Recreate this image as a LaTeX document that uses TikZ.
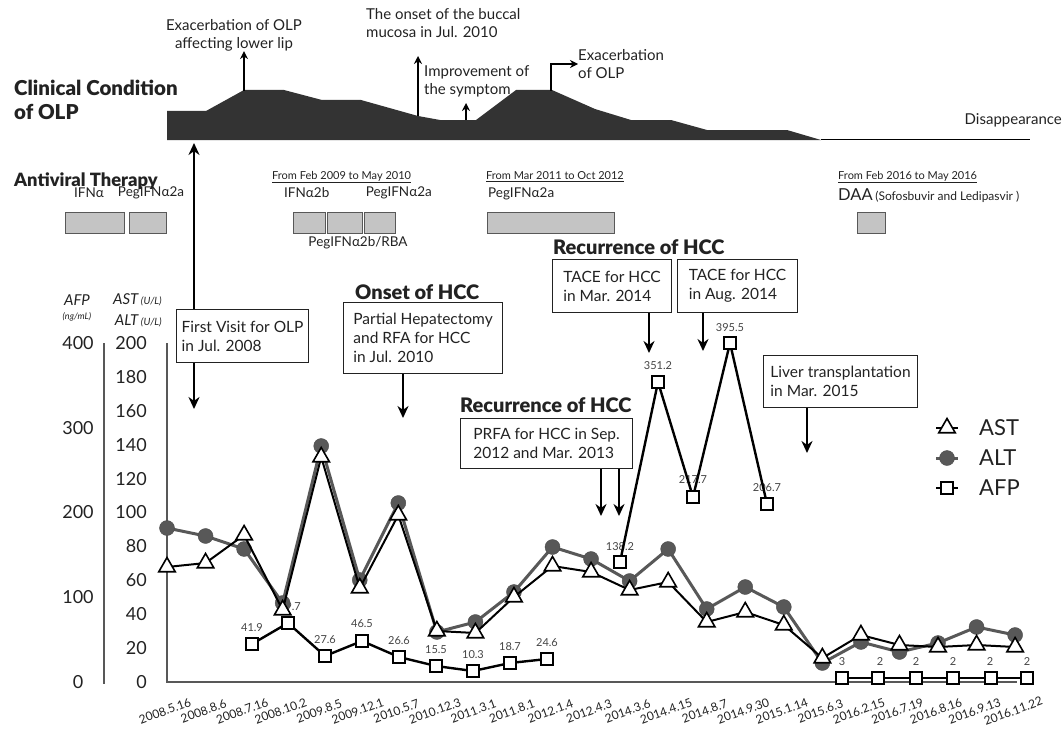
\documentclass[tikz,border=0pt]{standalone}
\usepackage{fontspec}
\setmainfont{Lato}[BoldFont={Lato Black}]
\usetikzlibrary{arrows.meta,shapes.geometric}
\definecolor{dk}{HTML}{222222}
\definecolor{sil}{HTML}{333333}
\definecolor{altc}{HTML}{585858}
\definecolor{boxg}{HTML}{C4C4C4}
\definecolor{lbl}{HTML}{444444}
\newcommand{\fsz}[2]{\fontsize{#1}{#2}\selectfont}
\tikzset{
 txt/.style={font=\fsz{15}{18}, text=dk, inner sep=0pt, align=left},
 ttl/.style={font=\bfseries, text=dk, inner sep=0pt, align=left},
 hcc/.style={font=\bfseries\fsz{20}{22}, text=dk, inner sep=0pt, anchor=west},
 annbox/.style={draw=dk, line width=1.1pt, fill=white, align=left, font=\fsz{15.5}{19}, text=dk, inner xsep=5pt, inner ysep=0pt, anchor=north west},
 arr/.style={draw=black, line width=2.2pt, -{Stealth[length=12pt,width=11pt]}},
 sarr/.style={draw=black, line width=1.8pt, -{Stealth[length=8pt,width=8pt]}},
 avbox/.style={draw=altc, fill=boxg, line width=1.1pt, inner sep=0pt, anchor=north west},
 avtxt/.style={font=\fsz{13.5}{15}, text=dk, inner sep=0pt},
 period/.style={font=\fsz{11}{13}, text=dk, inner sep=0pt, anchor=west},
 ticklab/.style={font=\fsz{18}{20}, text=dk, inner sep=0pt},
 dlab/.style={font=\fsz{11}{13}, text=lbl, inner sep=0pt},
 xlab/.style={font=\fsz{12}{14}, text=dk, inner sep=0pt, rotate=20},
 altm/.style={circle, fill=altc, draw=altc!85!black, minimum size=15pt, inner sep=0pt},
 astm/.style={regular polygon, regular polygon sides=3, draw=black, fill=white, line width=1.6pt, minimum size=19pt, inner sep=0pt},
 afpm/.style={rectangle, draw=black, fill=white, line width=2pt, minimum size=12pt, inner sep=0pt},
 axisl/.style={draw=altc, line width=1.4pt},
 altline/.style={draw=altc, line width=3pt, line join=round},
 astline/.style={draw=black, line width=2pt, line join=round},
 afpline/.style={draw=black, line width=2.4pt, line join=round},
}
\begin{document}
\begin{tikzpicture}[x=1pt,y=-1pt]
\useasboundingbox (0,0) rectangle (1064,733);

% ---------- Clinical condition of OLP ----------
\node[ttl, font=\bfseries\fsz{20.5}{24}, anchor=west] (cc) at (14,100) {Clinical Condition\\of OLP};
\fill[sil] (167,140) -- (167,111) -- (206,111) -- (244,90) -- (284,90) -- (322,100) -- (361,100)
  -- (418,116) -- (440,120) -- (476,120) -- (516,90) -- (552,90) -- (595,109) -- (631,120)
  -- (671,120) -- (707,130) -- (787,130) -- (821,140) -- cycle;
\draw[line width=1.3pt, black] (821,139.5) -- (1030,139.5);
\node[txt, anchor=east] (dis) at (1062,120) {Disappearance};

\node[txt, align=center] (lowerlip) at (234,35) {Exacerbation of OLP\\affecting lower lip};
\coordinate (llA) at (244,91);
\draw[sarr] (llA) -- (lowerlip.south -| llA);

\node[txt, anchor=west] (buccal) at (366,23) {The onset of the buccal\\mucosa in Jul. 2010};
\coordinate (bcA) at (418,116);
\coordinate (bcB) at (418,56);
\draw[sarr] (bcA) -- (bcB);

\node[txt, anchor=west] (improve) at (424,81) {Improvement of\\the symptom};
\coordinate (imA) at (466,120);
\coordinate (imB) at (466,103);
\draw[sarr] (imA) -- (imB);

\node[txt, anchor=west] (exac) at (578,64) {Exacerbation\\of OLP};
\coordinate (exA) at (551,91);
\draw[sarr] (exA) |- (exac.west);

% ---------- Antiviral therapy ----------
\node[ttl, font=\bfseries\fsz{18.3}{22}, anchor=west] (avt) at (14,181) {Antiviral Therapy};

\node[avtxt] (l1) at (89,193) {IFNα};
\node[avtxt] (l2) at (151,193) {PegIFNα2a};
\node[avbox, minimum width=59pt, minimum height=21pt] (b1) at (65,212) {};
\node[avbox, minimum width=37pt, minimum height=21pt] (b2) at (129,212) {};

\node[period] (p1) at (272,177) {\underline{From Feb 2009 to May 2010}};
\node[avtxt, anchor=west] (l3) at (284,193) {IFNα2b};
\node[avtxt, anchor=east] (l4) at (432,193) {PegIFNα2a};
\node[avbox, minimum width=32pt, minimum height=21pt] (b3) at (293,212) {};
\node[avbox, minimum width=35pt, minimum height=21pt] (b4) at (327,212) {};
\node[avbox, minimum width=31pt, minimum height=21pt] (b5) at (364,212) {};
\node[avtxt] (l5) at (358,243) {PegIFNα2b/RBA};

\node[period] (p2) at (486,177) {\underline{From Mar 2011 to Oct 2012}};
\node[avtxt, anchor=west] (l6) at (488,194) {PegIFNα2a};
\node[avbox, minimum width=127pt, minimum height=21pt] (b6) at (487,212) {};

\node[period] (p3) at (838,177) {\underline{From Feb 2016 to May 2016}};
\node[inner sep=0pt, anchor=west, text=dk] (l7) at (838,196) {{\fsz{16.5}{18}DAA} {\fsz{12}{14}(Sofosbuvir and Ledipasvir )}};
\node[avbox, minimum width=28pt, minimum height=21pt] (b7) at (857,212) {};

% ---------- axes ----------
\node[font=\itshape\fsz{15}{17}, text=dk, inner sep=0pt] (afph) at (77,300) {AFP};
\node[font=\itshape\fsz{9}{11}, text=dk, inner sep=0pt] (afpu) at (77,317) {(ng/mL)};
\node[inner sep=0pt, anchor=east, text=dk] (asth) at (162,300) {{\itshape\fsz{15}{17}AST} {\itshape\fsz{10}{12}(U/L)}};
\node[inner sep=0pt, anchor=east, text=dk] (alth) at (162,321) {{\itshape\fsz{15}{17}ALT} {\itshape\fsz{10}{12}(U/L)}};

\draw[axisl] (104,343) -- (104,684);
\draw[axisl] (167,343) -- (167,682) -- (1017,682);

\foreach \v [count=\k from 0] in {0,20,...,200}
  \node[ticklab, anchor=east] (ta\k) at (147,{682-1.695*\v}) {\v};
\foreach \v [count=\k from 0] in {0,100,...,400}
  \node[ticklab] (tf\k) at (78,{682-0.8475*\v}) {\v};

\foreach \l [count=\i from 0] in {2008.5.16,2008.8.6,2008.7.16,2008.10.2,2009.8.5,2009.12.1,2010.5.7,2010.12.3,2011.3.1,2011.8.1,2012.1.4,2012.4.3,2014.3.6,2014.4.15,2014.8.7,2014.9.30,2015.1.14,2015.6.3,2016.2.15,2016.7.19,2016.8.16,2016.9.13,2016.11.22}
  \node[xlab] (xl\i) at ({165+38.55*\i},711) {\l};

% ---------- annotation boxes ----------
\node[annbox, minimum width=132pt, minimum height=53pt] (fv) at (176,309) {First Visit for OLP\\in Jul. 2008};
\coordinate (fvUp) at (194,143);
\coordinate (fvDn) at (194,409);
\draw[arr] (fv.north -| fvUp) -- (fvUp);
\draw[arr] (fv.south -| fvDn) -- (fvDn);

\node[hcc] (onT) at (355,292) {Onset of HCC};
\node[annbox, minimum width=159pt, minimum height=71pt] (onset) at (343,302) {Partial Hepatectomy\\and RFA for HCC\\in Jul. 2010};
\coordinate (onDn) at (403,418);
\draw[arr] (onset.south -| onDn) -- (onDn);

\node[hcc] (rc1) at (553,247) {Recurrence of HCC};
\node[annbox, minimum width=119pt, minimum height=53pt] (tace1) at (552,259) {TACE for HCC\\in Mar. 2014};
\node[annbox, minimum width=120pt, minimum height=53pt] (tace2) at (677,259) {TACE for HCC\\in Aug. 2014};
\coordinate (t1Dn) at (649,353);
\coordinate (t2Dn) at (703,351);
\draw[arr] (tace1.south -| t1Dn) -- (t1Dn);
\draw[arr] (tace2.south -| t2Dn) -- (t2Dn);

\node[hcc] (rc2) at (460,405) {Recurrence of HCC};
\node[annbox, minimum width=172pt, minimum height=50pt] (prfa) at (460,418) {PRFA for HCC in Sep.\\2012 and Mar. 2013};
\coordinate (prA) at (601,516);
\coordinate (prB) at (619,516);
\draw[arr] (prfa.south -| prA) -- (prA);
\draw[arr] (prfa.south -| prB) -- (prB);

\node[annbox, minimum width=154pt, minimum height=52pt] (liver) at (763,355) {Liver transplantation\\in Mar. 2015};
\coordinate (lvDn) at (807,453);
\draw[arr] (liver.south -| lvDn) -- (lvDn);

% ---------- data ----------
\foreach \y [count=\i from 0] in {528,536,549,603,446,580,503,632,622,592,547,559,581,549,609,587,607,663,642,652,643,627,635}
  \coordinate (alt\i) at ({167+38.55*\i},\y);
\foreach \y [count=\i from 0] in {567,563,535,610,457,588,515,631,633,597,566,572,590,582,622,612,625,658,635,645,647,645,647}
  \coordinate (ast\i) at ({167+38.55*\i},\y);
\foreach \x/\y [count=\i] in {252/644,288/623,325/656,362/641,399/657,436/666,473/671,510/663,547/659,620/562,658/382,693/497,730/343,767/504,842/678,878/678,916/678,953/678,991/678,1027/678}
  \coordinate (afp\i) at (\x,\y);

% AFP value labels
\foreach \x/\y/\l [count=\i] in {252/628/41.9,290/607/69.7,325/640/27.6,362/624/46.5,399/641/26.6,436/650/15.5,473/655/10.3,510/647/18.7,547/643/24.6,620/547/138.2,658/366/351.2,693/480/217.7,730/328/395.5,767/488/206.7,842/662/3,880/662/2,916/662/2,953/662/2,990/662/2,1027/662/2}
  \node[dlab] (dl\i) at (\x,\y) {\l};

\draw[altline] (alt0) \foreach \i in {1,...,22} { -- (alt\i) };
\foreach \i in {0,...,22} \node[altm] (altm\i) at (alt\i) {};
\draw[astline] (ast0) \foreach \i in {1,...,22} { -- (ast\i) };
\foreach \i in {0,...,22} \node[astm] (astm\i) at (ast\i) {};

\draw[afpline] (afp1) \foreach \i in {2,...,9} { -- (afp\i) };
\draw[afpline] (afp10) \foreach \i in {11,...,14} { -- (afp\i) };
\draw[afpline] (afp15) \foreach \i in {16,...,20} { -- (afp\i) };
\foreach \i in {1,...,20} \node[afpm] (afpm\i) at (afp\i) {};

% ---------- legend ----------
\coordinate (lgA) at (947,428);
\coordinate (lgB) at (947,458);
\coordinate (lgC) at (947,488);
\draw[astline] ([xshift=-11pt]lgA) -- ([xshift=11pt]lgA);
\node[astm] (lgAm) at (lgA) {};
\draw[altline] ([xshift=-11pt]lgB) -- ([xshift=11pt]lgB);
\node[altm] (lgBm) at (lgB) {};
\draw[afpline] ([xshift=-11pt]lgC) -- ([xshift=11pt]lgC);
\node[afpm] (lgCm) at (lgC) {};
\node[font=\fsz{22}{24}, text=dk, inner sep=0pt, anchor=west] (lgAt) at (979,428) {AST};
\node[font=\fsz{22}{24}, text=dk, inner sep=0pt, anchor=west] (lgBt) at (979,458) {ALT};
\node[font=\fsz{22}{24}, text=dk, inner sep=0pt, anchor=west] (lgCt) at (979,488) {AFP};
\end{tikzpicture}
\end{document}
